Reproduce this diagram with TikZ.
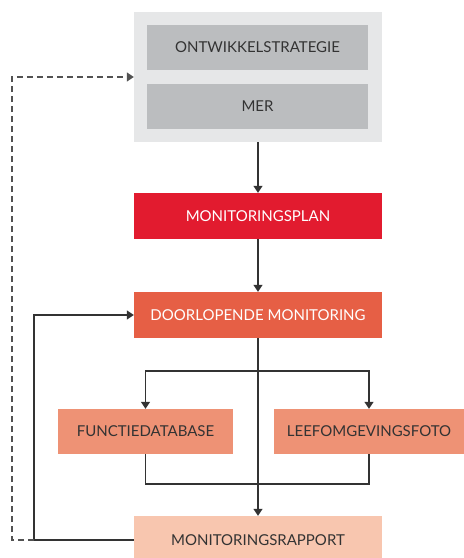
\documentclass[tikz,border=0pt]{standalone}
\usepackage{fontspec}
\setmainfont{Lato}
\usepackage{xcolor}
\usetikzlibrary{arrows.meta}

\definecolor{greyout}{HTML}{E6E7E8}
\definecolor{greyin}{HTML}{BBBDBF}
\definecolor{planred}{HTML}{E21B2F}
\definecolor{doorlorange}{HTML}{E65F45}
\definecolor{subsalmon}{HTML}{EE9275}
\definecolor{rapportpink}{HTML}{F8C6AF}
\definecolor{lijn}{HTML}{333333}

\begin{document}
\begin{tikzpicture}[x=1pt, y=-1pt,
  box/.style={rectangle, inner sep=0pt, minimum width=248pt, minimum height=46pt,
    font=\fontsize{15}{17}\selectfont, text=lijn},
  arrow/.style={draw=lijn, line width=1.3pt, -{Triangle[width=9pt,length=7pt]}},
  line/.style={draw=lijn, line width=1.3pt}]
\useasboundingbox (0,0) rectangle (464,558);
\clip (0,0) rectangle (464,558);

% blok strategie
\node[rectangle, fill=greyout, minimum width=248pt, minimum height=130pt] (strat) at (258,77) {};
\node[box, fill=greyin, minimum width=221pt, minimum height=45pt] (ontw) at (257.5,47.5) {ONTWIKKELSTRATEGIE};
\node[box, fill=greyin, minimum width=221pt, minimum height=45pt] (mer) at (257.5,106.5) {MER};

% hoofdlijn
\node[box, fill=planred, text=white] (plan) at (258,216) {MONITORINGSPLAN};
\node[box, fill=doorlorange, text=white] (doorl) at (258,315) {DOORLOPENDE MONITORING};
\node[box, fill=subsalmon, minimum width=175pt, minimum height=45pt] (func) at (145.5,431.5) {FUNCTIEDATABASE};
\node[box, fill=subsalmon, minimum width=190pt, minimum height=45pt] (leef) at (369,431.5) {LEEFOMGEVINGSFOTO};
\node[box, fill=rapportpink, minimum height=48pt] (rapport) at (258,540) {MONITORINGSRAPPORT};

\coordinate (split) at (258,371);
\coordinate (join) at (258,484);
\coordinate (fb) at (34,540);
\coordinate (dl) at (12,540);

\draw[arrow] (strat.south) -- (plan.north);
\draw[arrow] (plan.south) -- (doorl.north);
\draw[arrow] (doorl.south) -- (rapport.north);
\draw[arrow] (split) -| (func.north);
\draw[arrow] (split) -| (leef.north);
\draw[line] (func.south) |- (join) -| (leef.south);

% terugkoppeling
\draw[arrow] (rapport.west) -- (fb) |- (doorl.west);
\draw[arrow, dash pattern=on 6pt off 4pt, line width=1.2pt, draw=lijn!85] (fb) -- (dl) |- (strat.west);
\end{tikzpicture}
\end{document}
